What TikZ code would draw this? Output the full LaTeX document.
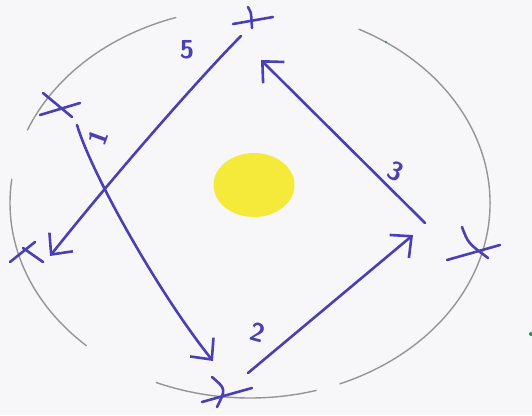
\documentclass[tikz,border=0pt]{standalone}
\usetikzlibrary{arrows.meta,shapes.geometric}
\definecolor{pen}{HTML}{4A3FB3}
\definecolor{pencil}{HTML}{959595}
\definecolor{disc}{HTML}{F5EA3A}
\definecolor{paper}{HTML}{F7F7F9}
\definecolor{fleck}{HTML}{2E8B57}
\tikzset{
  penline/.style={draw=pen, line width=2.6pt, line cap=round, line join=round},
  penarrow/.style={penline, -{Straight Barb[length=16pt,width=30pt,line width=2.6pt]}},
  pencilarc/.style={draw=pencil, line width=1.4pt, line cap=round},
  digit/.style={text=pen, font=\sffamily\bfseries\fontsize{26}{26}\selectfont, inner sep=0pt}
}
\begin{document}
\begin{tikzpicture}[x=1pt,y=-1pt]
\useasboundingbox (0,0) rectangle (532,415);
\fill[paper] (0,0) rectangle (532,415);
% pencil ellipse arcs
\coordinate (c) at (250,203);
\draw[pencilarc] ([shift={(-108:240 and 195)}]c) arc[start angle=-108, end angle=-158, x radius=240, y radius=195];
\draw[pencilarc] ([shift={(-63:240 and 195)}]c) arc[start angle=-63, end angle=68, x radius=240, y radius=195];
\draw[pencilarc] ([shift={(74:240 and 195)}]c) arc[start angle=74, end angle=113, x radius=240, y radius=195];
\draw[pencilarc] ([shift={(-173:240 and 195)}]c) arc[start angle=-173, end angle=-227, x radius=240, y radius=195];
% yellow disc
\node[ellipse, fill=disc, minimum width=81pt, minimum height=64pt, inner sep=0pt] (sun) at (254,185) {};
% crosses
\coordinate (xtop) at (253,20);
\coordinate (xul) at (60,106);
\coordinate (xleft) at (27,253);
\coordinate (xbot) at (230,393);
\coordinate (xright) at (478,250);
\draw[penline] (xtop) ++(-20,4) -- ++(40,-7);
\draw[penline] (xtop) ++(-5,-13) .. controls ++(3,4) .. ++(4,21);
\draw[penline] (xul) ++(-17,-13) -- ++(29,24);
\draw[penline] (xul) ++(-20,9) -- ++(40,-12);
\draw[penline] (xleft) ++(-17,9) -- ++(25,-20);
\draw[penline] (xleft) ++(-4,-5) -- ++(20,14);
\draw[penline] (xbot) ++(-18,-16) .. controls ++(14,12) .. ++(5,30);
\draw[penline] (xbot) ++(-28,9) -- ++(50,-14);
\draw[penline] (xright) ++(-16,-23) .. controls ++(6,16) .. ++(26,31);
\draw[penline] (xright) ++(-31,10) -- ++(53,-15);
% arrow end points
\coordinate (a1s) at (77,125);  \coordinate (a1e) at (213,361);
\coordinate (a2s) at (248,373); \coordinate (a2e) at (413,235);
\coordinate (a3s) at (425,223); \coordinate (a3e) at (261,60);
\coordinate (a5s) at (241,36);  \coordinate (a5e) at (50,256);
\draw[penarrow] (a1s) .. controls (92,175) and (160,295) .. (a1e);
\draw[penarrow] (a2s) -- (a2e);
\draw[penarrow] (a3s) -- (a3e);
\draw[penarrow] (a5s) .. controls (205,72) and (120,168) .. (a5e);
% labels
\node[digit, rotate=70] (l1) at (98,138) {1};
\node[digit, rotate=-15] (l2) at (258,332) {2};
\node[digit, rotate=-25] (l3) at (396,171) {3};
\node[digit] (l5) at (187,50) {5};
% specks
\fill[fleck] (386,42) circle (1.2);
\fill[fleck] (531,334) circle (2);
\end{tikzpicture}
\end{document}
